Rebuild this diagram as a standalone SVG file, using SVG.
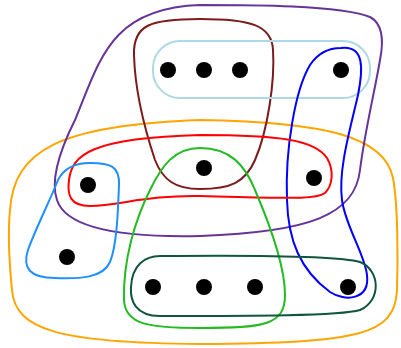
<svg xmlns="http://www.w3.org/2000/svg" width="401" height="348" viewBox="0 0 401 348">
<style>
.e{fill:none;stroke-width:2}
.d{fill:#000}
</style>
<rect width="401" height="348" fill="#fff"/>
<g id="edges">
<path id="orange" class="e" stroke="#ffa500" d="M200,120 C330,122 385,138 393,178 C398,205 398,260 397,290 C395,335 360,343 200,344 C60,343 15,330 12,290 C9,260 8,230 10,210 C14,150 60,125 200,120 Z"/>
<path id="purple" class="e" stroke="#663399" d="M200,5 C250,5 340,5 370,17 C385,25 383,45 380,60 C375,90 365,130 360,170 C355,215 310,232 200,236 C110,238 65,225 57,200 C50,180 60,150 75,120 C100,60 110,8 200,5 Z"/>
<path id="maroon" class="e" stroke="#7b1c1c" d="M200,19 C250,19 272,25 273,50 C275,80 268,130 255,160 C245,183 230,189 200,189 C175,189 163,180 155,160 C145,130 135,90 134,55 C133,25 150,19 200,19 Z"/>
<rect id="lightblue" class="e" stroke="#add8e6" x="153" y="41" width="217" height="57" rx="27"/>
<path id="blue" class="e" stroke="#0000ff" d="M341,48 C365,45 363,70 358,95 C350,130 338,170 342,200 C345,225 365,255 367,275 C370,300 345,302 330,292 C300,270 288,240 287,200 C285,150 295,90 310,65 C318,53 330,48 341,48 Z"/>
<path id="red" class="e" stroke="#ff0000" d="M200,135 C280,135 315,140 327,158 C334,170 333,185 325,193 C315,200 290,198 200,196 C150,195 120,205 90,206 C70,206 67,195 69,180 C72,155 90,138 200,135 Z"/>
<path id="green" class="e" stroke="#22bb22" d="M200,148 C230,148 245,165 255,190 C270,225 285,265 285,295 C285,325 265,328 200,328 C150,328 125,325 124,300 C123,260 135,220 150,190 C162,165 175,148 200,148 Z"/>
<path id="dodger" class="e" stroke="#1e90ff" d="M90,163 C110,163 120,166 119,185 C118,210 117,245 110,262 C103,278 80,279 55,278 C30,278 22,268 28,250 C35,230 48,205 58,180 C64,168 75,163 90,163 Z"/>
<path id="darkgreen" class="e" stroke="#115540" d="M160,256 C260,255 340,256 360,262 C380,270 382,300 360,310 C340,316 250,316 160,316 C135,316 130,300 131,287 C132,265 145,256 160,256 Z"/>
</g>
<g id="n1"><circle class="d" cx="168" cy="70" r="8"/></g>
<g id="n2"><circle class="d" cx="204" cy="70" r="8"/></g>
<g id="n3"><circle class="d" cx="240" cy="70" r="8"/></g>
<g id="n4"><circle class="d" cx="341" cy="70" r="8"/></g>
<g id="n5"><circle class="d" cx="204" cy="168" r="8"/></g>
<g id="n6"><circle class="d" cx="314" cy="178" r="8"/></g>
<g id="n7"><circle class="d" cx="88" cy="185" r="8"/></g>
<g id="n8"><circle class="d" cx="67" cy="257" r="8"/></g>
<g id="n9"><circle class="d" cx="153" cy="287" r="8"/></g>
<g id="n10"><circle class="d" cx="204" cy="287" r="8"/></g>
<g id="n11"><circle class="d" cx="255" cy="287" r="8"/></g>
<g id="n12"><circle class="d" cx="348" cy="287" r="8"/></g>
</svg>
